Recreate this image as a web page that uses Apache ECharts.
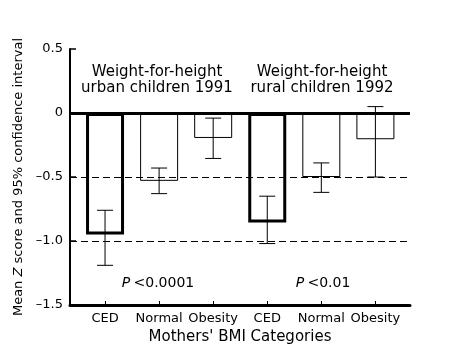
<!DOCTYPE html>
<html><head><meta charset="utf-8">
<script src="https://cdn.jsdelivr.net/npm/echarts@6/dist/echarts.min.js"></script>
<style>html,body{margin:0;padding:0;background:#fff}#c{width:468px;height:357px}</style>
</head><body><div id="c"></div>
<script>
const categories = ['CED', 'Normal', 'Obesity', 'CED', 'Normal', 'Obesity'];
const meanZ = [-0.95, -0.53, -0.195, -0.855, -0.50, -0.205];
const ciLow = [-1.19, -0.63, -0.355, -1.02, -0.62, -0.50];
const ciHigh = [-0.76, -0.43, -0.04, -0.65, -0.39, 0.05];
const yTicks = [0.5, 0, -0.5, -1.0, -1.5];
const refLines = [-0.5, -1.0];
const groupTitles = ['Weight-for-height\nurban children 1991', 'Weight-for-height\nrural children 1992'];
const pValues = ['<0.0001', '<0.01'];

const FONT = '"DejaVu Sans", sans-serif';
const chart = echarts.init(document.getElementById('c'), null, {renderer: 'canvas'});
const idx = categories.map((c, i) => i);

const option = {
  backgroundColor: '#fff',
  animation: false,
  grid: {left: 70, right: 58, top: 49, bottom: 52},
  xAxis: {
    type: 'value', min: -0.648, max: 5.64,
    splitLine: {show: false},
    axisLine: {show: true, onZero: false, lineStyle: {color: '#000', width: 3}},
    axisTick: {show: true, inside: true, length: 4, customValues: idx, lineStyle: {color: '#000', width: 1}},
    axisLabel: {customValues: idx, formatter: v => categories[Math.round(v)], color: '#000', fontFamily: FONT, fontSize: 13, margin: 7},
    name: "Mothers' BMI Categories", nameLocation: 'middle', nameGap: 20,
    nameTextStyle: {color: '#000', fontFamily: FONT, fontSize: 15}
  },
  yAxis: {
    type: 'value', min: -1.5, max: 0.5, interval: 0.5,
    splitLine: {show: false},
    axisLine: {show: true, onZero: false, lineStyle: {color: '#000', width: 2}},
    axisTick: {show: true, inside: true, length: 6, lineStyle: {color: '#000', width: 1.5}},
    axisLabel: {color: '#000', fontFamily: FONT, fontSize: 13, margin: 7,
      formatter: v => v === 0 ? '0' : (v < 0 ? '\u2013' : '') + Math.abs(v).toFixed(1)},
    name: '{a|Mean }{z|Z}{a| score and 95% confidence interval}',
    nameLocation: 'middle', nameGap: 42,
    nameTextStyle: {color: '#000', fontFamily: FONT, fontSize: 13,
      rich: {a: {fontFamily: FONT, fontSize: 13, color: '#000'}, z: {fontFamily: FONT, fontSize: 13, color: '#000', fontStyle: 'italic'}}}
  },
  series: [
    {
      type: 'bar', barWidth: 38, z: 2,
      data: categories.map((c, i) => ({
        value: [i, meanZ[i]],
        itemStyle: {color: '#fff', borderColor: '#000', borderWidth: c === 'CED' ? 3 : 1}
      })),
      markLine: {
        symbol: 'none', silent: true, z: 5,
        label: {show: false},
        data: [{yAxis: 0, lineStyle: {color: '#000', width: 3, type: 'solid'}}]
          .concat(refLines.map(v => ({yAxis: v, lineStyle: {color: '#000', width: 1, type: [7, 4]}})))
      }
    },
    {
      type: 'custom', z: 4,
      encode: {x: 0, y: [1, 2]},
      data: categories.map((c, i) => [i, ciLow[i], ciHigh[i]]),
      renderItem: (params, api) => {
        const x = api.value(0);
        const lo = api.coord([x, api.value(1)]);
        const hi = api.coord([x, api.value(2)]);
        const hw = 8;
        const st = {stroke: '#000', lineWidth: 1};
        return {type: 'group', children: [
          {type: 'line', shape: {x1: lo[0], y1: lo[1], x2: hi[0], y2: hi[1]}, style: st},
          {type: 'line', shape: {x1: lo[0] - hw, y1: lo[1], x2: lo[0] + hw, y2: lo[1]}, style: st},
          {type: 'line', shape: {x1: hi[0] - hw, y1: hi[1], x2: hi[0] + hw, y2: hi[1]}, style: st}
        ]};
      }
    }
  ],
  graphic: [
    {type: 'text', x: 157, y: 80, z: 10, style: {text: groupTitles[0], fill: '#000', font: '15px ' + FONT, lineHeight: 16, align: 'center', verticalAlign: 'middle'}},
    {type: 'text', x: 322, y: 80, z: 10, style: {text: groupTitles[1], fill: '#000', font: '15px ' + FONT, lineHeight: 16, align: 'center', verticalAlign: 'middle'}},
    {type: 'text', x: 158, y: 283, z: 10, style: {text: '{i|P} {n|' + pValues[0] + '}', align: 'center', verticalAlign: 'middle',
      rich: {i: {fontStyle: 'italic', fontSize: 14, fontFamily: FONT, fill: '#000'}, n: {fontSize: 14, fontFamily: FONT, fill: '#000'}}}},
    {type: 'text', x: 323, y: 283, z: 10, style: {text: '{i|P} {n|' + pValues[1] + '}', align: 'center', verticalAlign: 'middle',
      rich: {i: {fontStyle: 'italic', fontSize: 14, fontFamily: FONT, fill: '#000'}, n: {fontSize: 14, fontFamily: FONT, fill: '#000'}}}}
  ]
};
chart.setOption(option);
</script>
</body></html>
